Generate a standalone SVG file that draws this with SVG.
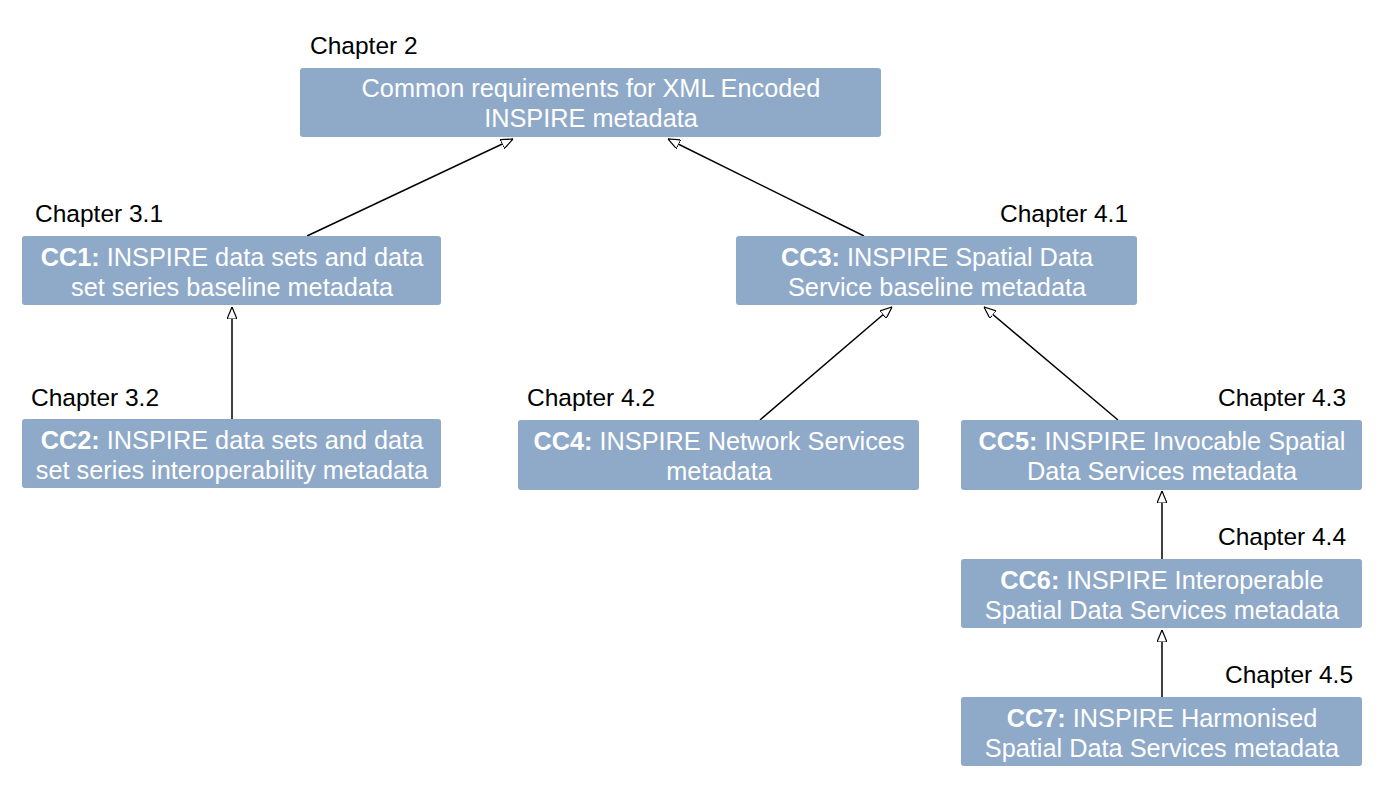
<svg xmlns="http://www.w3.org/2000/svg" width="1385" height="789" viewBox="0 0 1385 789">
<style>
.box{fill:#8FA9C8;}
.t{font-family:"Liberation Sans",Arial,sans-serif;font-size:25.3px;fill:#ffffff;text-anchor:middle;}
.b{font-weight:bold;}
.ch{font-family:"Liberation Sans",Arial,sans-serif;font-size:24.5px;fill:#000000;}
.c{stroke:#000;stroke-width:1.5;fill:none;marker-end:url(#tri);}
</style>
<defs>
<marker id="tri" viewBox="0 0 12 10" refX="12" refY="5" markerWidth="12" markerHeight="10" markerUnits="userSpaceOnUse" orient="auto">
<path d="M0,0 L12,5 L0,10 Z" fill="#fff" stroke="#000" stroke-width="1.2"/>
</marker>
</defs>
<g id="connectors">
<line class="c" x1="307" y1="236" x2="513" y2="139"/>
<line class="c" x1="864" y1="236" x2="668" y2="139"/>
<line class="c" x1="232" y1="419" x2="232" y2="307"/>
<line class="c" x1="760" y1="420" x2="892" y2="307"/>
<line class="c" x1="1118" y1="420" x2="984" y2="307"/>
<line class="c" x1="1162" y1="559" x2="1162" y2="491"/>
<line class="c" x1="1162" y1="697" x2="1162" y2="630"/>
</g>
<g id="top">
<text class="ch" x="310" y="54">Chapter 2</text>
<rect class="box" x="300" y="68" width="581" height="69" rx="3"/>
<text class="t" x="591" y="97">Common requirements for XML Encoded</text>
<text class="t" x="591" y="127">INSPIRE metadata</text>
</g>
<g id="cc1">
<text class="ch" x="35" y="222">Chapter 3.1</text>
<rect class="box" x="22" y="236" width="419" height="69" rx="3"/>
<text class="t" x="232" y="266"><tspan class="b">CC1:</tspan> INSPIRE data sets and data</text>
<text class="t" x="232" y="296">set series baseline metadata</text>
</g>
<g id="cc2">
<text class="ch" x="31" y="406">Chapter 3.2</text>
<rect class="box" x="22" y="419" width="419" height="69" rx="3"/>
<text class="t" x="232" y="449"><tspan class="b">CC2:</tspan> INSPIRE data sets and data</text>
<text class="t" x="232" y="479">set series interoperability metadata</text>
</g>
<g id="cc3">
<text class="ch" x="1000" y="222">Chapter 4.1</text>
<rect class="box" x="736" y="236" width="401" height="69" rx="3"/>
<text class="t" x="937" y="266"><tspan class="b">CC3:</tspan> INSPIRE Spatial Data</text>
<text class="t" x="937" y="296">Service baseline metadata</text>
</g>
<g id="cc4">
<text class="ch" x="527" y="406">Chapter 4.2</text>
<rect class="box" x="518" y="420" width="401" height="70" rx="3"/>
<text class="t" x="719" y="450"><tspan class="b">CC4:</tspan> INSPIRE Network Services</text>
<text class="t" x="719" y="480">metadata</text>
</g>
<g id="cc5">
<text class="ch" x="1218" y="406">Chapter 4.3</text>
<rect class="box" x="961" y="420" width="401" height="70" rx="3"/>
<text class="t" x="1162" y="450"><tspan class="b">CC5:</tspan> INSPIRE Invocable Spatial</text>
<text class="t" x="1162" y="480">Data Services metadata</text>
</g>
<g id="cc6">
<text class="ch" x="1218" y="545">Chapter 4.4</text>
<rect class="box" x="961" y="559" width="401" height="69" rx="3"/>
<text class="t" x="1162" y="589"><tspan class="b">CC6:</tspan> INSPIRE Interoperable</text>
<text class="t" x="1162" y="619">Spatial Data Services metadata</text>
</g>
<g id="cc7">
<text class="ch" x="1225" y="683">Chapter 4.5</text>
<rect class="box" x="961" y="697" width="401" height="69" rx="3"/>
<text class="t" x="1162" y="727"><tspan class="b">CC7:</tspan> INSPIRE Harmonised</text>
<text class="t" x="1162" y="757">Spatial Data Services metadata</text>
</g>
</svg>
